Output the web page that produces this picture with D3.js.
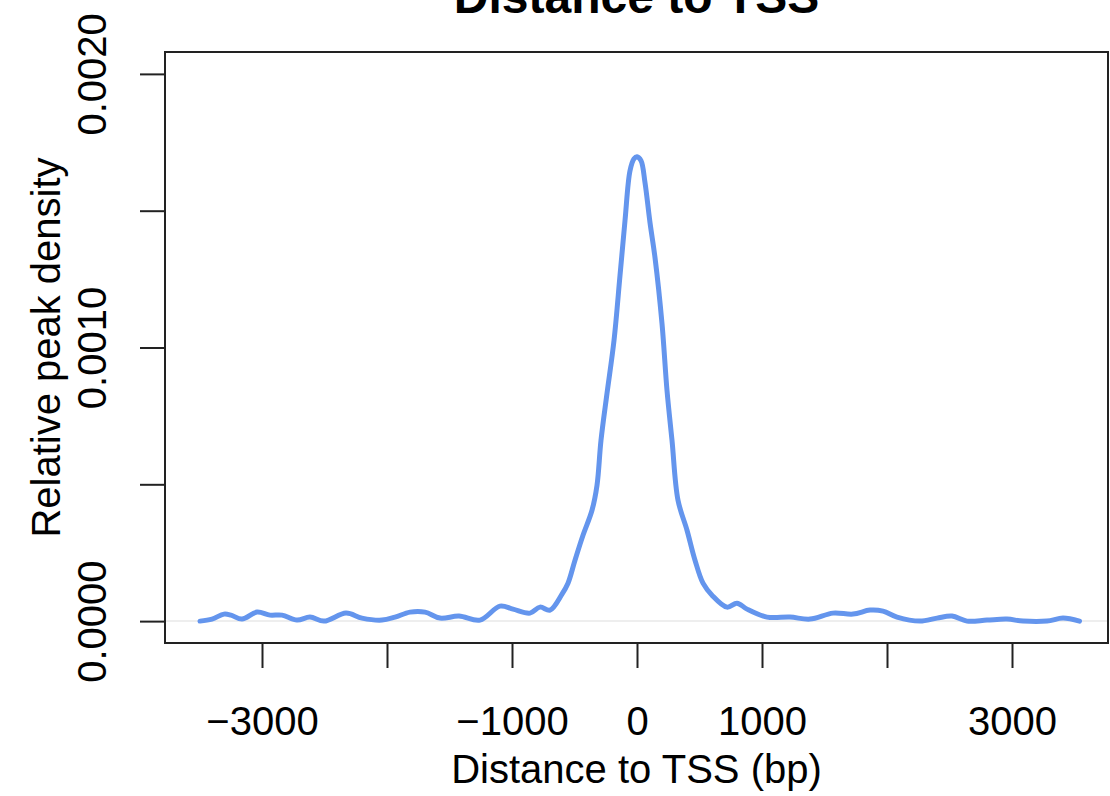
<!DOCTYPE html>
<html>
<head>
    <title>Distance to TSS - D3.js</title>
    <script src="https://d3js.org/d3.v7.min.js"></script>
    <style>
        body { margin: 0; background: #fff; }
        svg text { font-family: "Liberation Sans", Arial, Helvetica, sans-serif; fill: #000; }
        .axis line { stroke: #222; stroke-width: 2; }
        .axis path { display: none; }
        .axis text { font-size: 40px; }
    </style>
</head>
<body>
<div id="chart"></div>
<script>
    // distance to TSS (bp)
    const distance = [
        -3496, -3400, -3304, -3248, -3160, -3040, -2936, -2840, -2720, -2616,
        -2504, -2328, -2200, -2040, -1936, -1816, -1696, -1576, -1424, -1256,
        -1096, -992, -856, -776, -696, -600, -552, -496, -432, -360,
        -320, -288, -240, -184, -136, -96, -56, -24, 0, 32,
        64, 104, 144, 200, 240, 280, 328, 400, 464, 528,
        600, 720, 800, 880, 1040, 1224, 1384, 1568, 1728, 1864,
        1968, 2080, 2264, 2400, 2520, 2640, 2800, 2960, 3088, 3280,
        3408, 3540
    ];
    // relative peak density at each distance
    const density = [
        0.0000000, 0.0000073, 0.0000256, 0.0000219, 0.0000073, 0.0000329, 0.0000219, 0.0000219, 0.0000037, 0.0000146,
        0.0000000, 0.0000292, 0.0000110, 0.0000037, 0.0000146, 0.0000329, 0.0000329, 0.0000110, 0.0000183, 0.0000037,
        0.0000548, 0.0000438, 0.0000292, 0.0000511, 0.0000402, 0.0000986, 0.0001387, 0.0002227, 0.0003139, 0.0004052,
        0.0004964, 0.0006607, 0.0008322, 0.0010257, 0.0012629, 0.0014637, 0.0016462, 0.0016900, 0.0016973, 0.0016827,
        0.0016024, 0.0014564, 0.0013286, 0.0010877, 0.0008432, 0.0006607, 0.0004417, 0.0003322, 0.0002227, 0.0001387,
        0.0000949, 0.0000511, 0.0000657, 0.0000438, 0.0000146, 0.0000146, 0.0000073, 0.0000292, 0.0000256, 0.0000402,
        0.0000365, 0.0000146, 0.0000000, 0.0000110, 0.0000183, 0.0000000, 0.0000037, 0.0000073, 0.0000000, 0.0000000,
        0.0000110, 0.0000000
    ];

    const xTicks = [-3000, -2000, -1000, 0, 1000, 2000, 3000];
    const xTickLabels = ["\u22123000", "", "\u22121000", "0", "1000", "", "3000"];
    const yTicks = [0, 0.0005, 0.001, 0.0015, 0.002];
    const yTickLabels = ["0.0000", "", "0.0010", "", "0.0020"];

    const W = 1110, H = 796;
    // plot box (R style, 4% padding around the data range)
    const box = { left: 165, right: 1108, top: 52, bottom: 643 };

    const svg = d3.select("#chart").append("svg")
        .attr("width", W)
        .attr("height", H);

    const x = d3.scaleLinear()
        .domain([-3776, 3768])
        .range([box.left, box.right]);

    const y = d3.scaleLinear()
        .domain([-0.00008, 0.00208])
        .range([box.bottom, box.top]);

    // light zero line
    svg.append("line")
        .attr("x1", box.left).attr("x2", box.right)
        .attr("y1", y(0)).attr("y2", y(0))
        .attr("stroke", "#eeeeee")
        .attr("stroke-width", 2);

    // density curve
    const pts = distance.map((d, i) => [d, density[i]]);
    const line = d3.line()
        .x(d => x(d[0]))
        .y(d => y(d[1]))
        .curve(d3.curveCatmullRom.alpha(0.5));

    svg.append("path")
        .datum(pts)
        .attr("fill", "none")
        .attr("stroke", "#6495ed")
        .attr("stroke-width", 5)
        .attr("stroke-linejoin", "round")
        .attr("stroke-linecap", "round")
        .attr("d", line);

    // box
    svg.append("rect")
        .attr("x", box.left).attr("y", box.top)
        .attr("width", box.right - box.left)
        .attr("height", box.bottom - box.top)
        .attr("fill", "none")
        .attr("stroke", "#222")
        .attr("stroke-width", 2);

    // x axis
    svg.append("g")
        .attr("class", "axis")
        .attr("transform", `translate(0,${box.bottom})`)
        .call(d3.axisBottom(x)
            .tickValues(xTicks)
            .tickSize(25)
            .tickPadding(39)
            .tickFormat((d, i) => xTickLabels[i]));

    // y axis, labels turned like R's default
    const yAxis = svg.append("g")
        .attr("class", "axis")
        .attr("transform", `translate(${box.left},0)`)
        .call(d3.axisLeft(y)
            .tickValues(yTicks)
            .tickSize(25)
            .tickFormat((d, i) => yTickLabels[i]));

    yAxis.selectAll(".tick text")
        .attr("transform", "rotate(-90)")
        .attr("x", 0)
        .attr("y", -59)
        .attr("dy", 0)
        .attr("text-anchor", "middle");

    // titles
    svg.append("text")
        .attr("x", (box.left + box.right) / 2)
        .attr("y", 13)
        .attr("text-anchor", "middle")
        .style("font-size", "48px")
        .style("font-weight", "bold")
        .text("Distance to TSS");

    svg.append("text")
        .attr("x", (box.left + box.right) / 2)
        .attr("y", 783)
        .attr("text-anchor", "middle")
        .style("font-size", "40px")
        .text("Distance to TSS (bp)");

    svg.append("text")
        .attr("transform", `translate(60,${(box.top + box.bottom) / 2}) rotate(-90)`)
        .attr("text-anchor", "middle")
        .style("font-size", "40px")
        .text("Relative peak density");
</script>
</body>
</html>
